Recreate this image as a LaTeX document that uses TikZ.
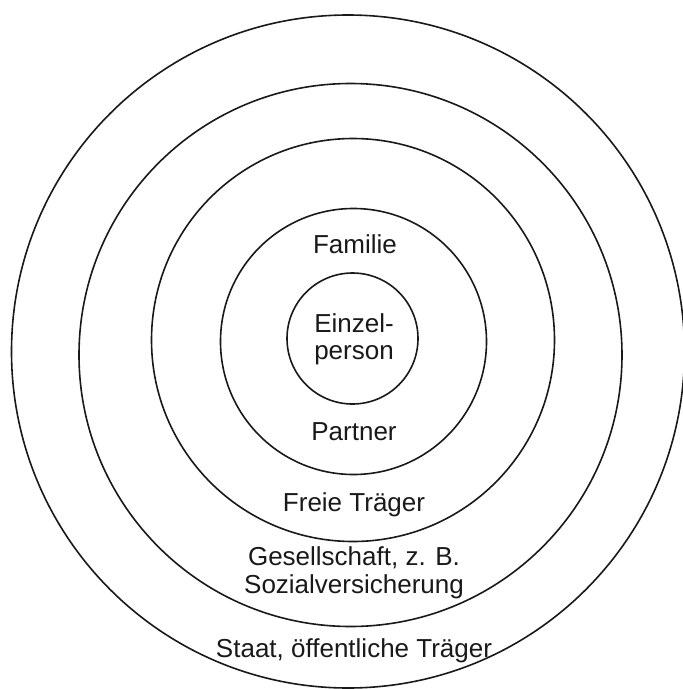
\documentclass[tikz,border=0pt]{standalone}
\usepackage{fontspec}
\setmainfont{Liberation Sans}
\begin{document}
\begin{tikzpicture}[x=1pt,y=-1pt,
  ring/.style={draw=black!90, line width=1.6pt},
  lbl/.style={anchor=base, inner sep=0pt, font=\fontsize{26}{28}\selectfont, text=black!90}]
\useasboundingbox (0,0) rectangle (683,689);
\draw[ring] (348,351.5) circle[radius=336.5];
\draw[ring] (350.5,355) circle[radius=271.5];
\draw[ring] (353,340) circle[radius=201.5];
\draw[ring] (353.5,341.5) circle[radius=133];
\draw[ring] (352.5,338.5) circle[radius=65.5];
\node[lbl] (familie) at (355,253) {Familie};
\node[lbl] (einzel) at (354,332) {Einzel-};
\node[lbl] (person) at (354,359) {person};
\node[lbl] (partner) at (354,440) {Partner};
\node[lbl] (freie) at (354,511) {Freie Träger};
\node[lbl] (ges) at (354,565) {Gesellschaft, z. B.};
\node[lbl] (sozial) at (354,593) {Sozialversicherung};
\node[lbl] (staat) at (354,657) {Staat, öffentliche Träger};
\end{tikzpicture}
\end{document}
